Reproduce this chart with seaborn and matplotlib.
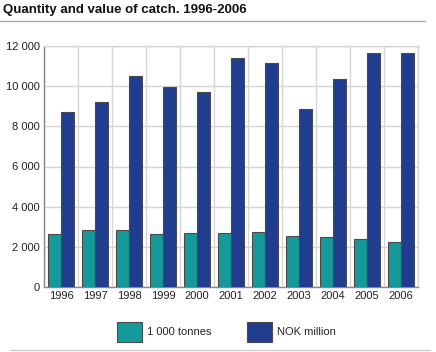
import pandas as pd
import seaborn as sns
import matplotlib.pyplot as plt
from matplotlib.lines import Line2D
import numpy as np

# Data
years = ["1996", "1997", "1998", "1999", "2000", "2001", "2002", "2003", "2004", "2005", "2006"]
tonnes = [2630, 2840, 2840, 2620, 2680, 2680, 2730, 2540, 2500, 2380, 2240]
nok = [8700, 9220, 10530, 9940, 9720, 11420, 11160, 8880, 10380, 11660, 11670]
series = ["1 000 tonnes", "NOK million"]
colors = ["#15999a", "#213d8f"]

df = pd.DataFrame({
    "year": years * 2,
    "value": tonnes + nok,
    "series": [series[0]] * len(years) + [series[1]] * len(years),
})

sns.set_style("white")
plt.rcParams["font.family"] = ["Liberation Sans", "DejaVu Sans"]

fig = plt.figure(figsize=(4.36, 3.52), dpi=100)
ax = fig.add_axes([44 / 436, 1 - 287 / 352, 374 / 436, 241 / 352])

sns.barplot(data=df, x="year", y="value", hue="series", palette=colors,
            saturation=1, width=0.78, gap=0.06, edgecolor="#4a4a4a", linewidth=0.8,
            ax=ax, legend=False, zorder=3)

ax.set_xlim(-0.5, len(years) - 0.5)
ax.set_ylim(0, 12000)
ax.set_yticks(np.arange(0, 12001, 2000))
ax.set_yticklabels([f"{v:,}".replace(",", " ") for v in range(0, 12001, 2000)])
ax.set_xticks(np.arange(-0.5, len(years), 1), minor=True)
ax.grid(axis="y", which="major", color="#d6d6d6", linewidth=1, zorder=0)
ax.grid(axis="x", which="minor", color="#d6d6d6", linewidth=1, zorder=0)
ax.set_axisbelow(True)
ax.tick_params(axis="both", which="both", length=0, labelsize=8, colors="#222222")
ax.tick_params(axis="x", pad=3)
ax.tick_params(axis="y", pad=3)
ax.set_xlabel("")
ax.set_ylabel("")
for side in ["top", "right"]:
    ax.spines[side].set_color("#d6d6d6")
ax.spines["left"].set_color("#888888")
ax.spines["bottom"].set_color("#888888")
for s in ax.spines.values():
    s.set_linewidth(1)

# title and rule lines
fig.text(3 / 436, 1 - 10 / 352, "Quantity and value of catch. 1996-2006",
         fontsize=9.5, fontweight="bold", va="center", ha="left", color="#111111")
fig.add_artist(Line2D([0, 425 / 436], [1 - 21 / 352, 1 - 21 / 352], color="#aaaaaa", linewidth=1))
fig.add_artist(Line2D([10 / 436, 430 / 436], [2 / 352, 2 / 352], color="#cccccc", linewidth=1))

# legend
handles = [plt.Rectangle((0, 0), 1, 1, facecolor=c, edgecolor="#4a4a4a", linewidth=0.8) for c in colors]
fig.legend(handles, series, loc="center", bbox_to_anchor=(0.52, 1 - 332 / 352), ncol=2,
           frameon=False, fontsize=8, handlelength=2.2, handleheight=2.3,
           handletextpad=0.5, columnspacing=3.2)

plt.savefig("out.png", dpi=100)
